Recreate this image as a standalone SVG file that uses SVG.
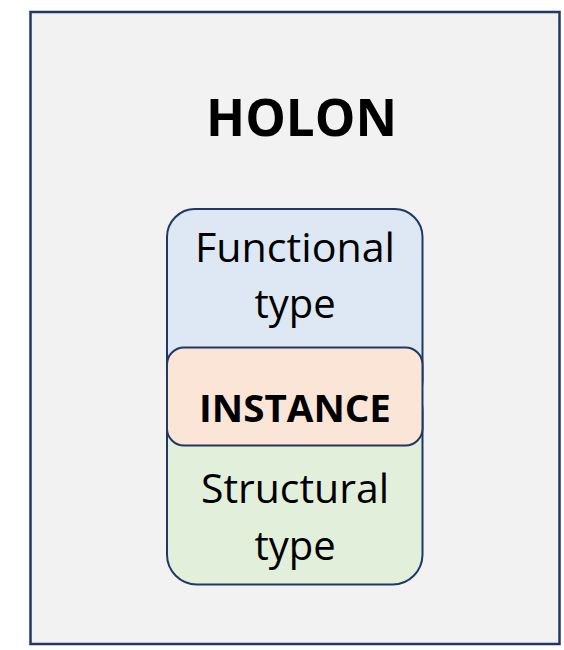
<svg xmlns="http://www.w3.org/2000/svg" width="564" height="650" viewBox="0 0 564 650">
<style>
.box{stroke:#1f3864;stroke-width:2}
.t{font-family:"Open Sans","Liberation Sans",sans-serif;fill:#000;text-anchor:middle}
.b{font-weight:bold}
</style>
<rect width="564" height="650" fill="#ffffff"/>
<g id="holon">
<rect x="30.5" y="12" width="529" height="632" fill="#f2f2f2" stroke="#1f3864" stroke-width="2.5"/>
<text class="t b" x="301.5" y="136" font-size="52" textLength="191" lengthAdjust="spacingAndGlyphs">HOLON</text>
</g>
<g id="functional">
<rect class="box" x="167" y="209" width="255.5" height="200" rx="28" fill="#dee8f5"/>
<text class="t" x="295" y="262" font-size="40" textLength="200" lengthAdjust="spacingAndGlyphs">Functional</text>
<text class="t" x="295" y="318" font-size="40">type</text>
</g>
<g id="structural">
<rect class="box" x="167" y="380" width="255.5" height="204.5" rx="30" fill="#e2efda"/>
<text class="t" x="295" y="503" font-size="40" textLength="188" lengthAdjust="spacingAndGlyphs">Structural</text>
<text class="t" x="295" y="560" font-size="40">type</text>
</g>
<g id="instance">
<rect class="box" x="167" y="347.5" width="255.5" height="98" rx="17" fill="#fbe5d7"/>
<text class="t b" x="295" y="422" font-size="38" textLength="192" lengthAdjust="spacingAndGlyphs">INSTANCE</text>
</g>
<g id="connectors"></g>
</svg>
